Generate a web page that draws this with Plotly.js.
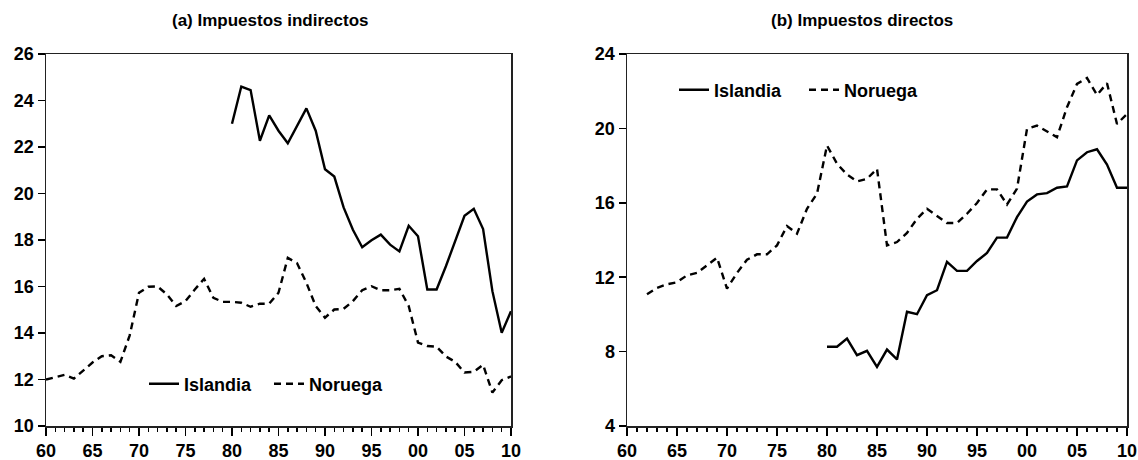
<!DOCTYPE html>
<html><head><meta charset="utf-8">
<script src="https://cdn.plot.ly/plotly-3.0.1.min.js"></script>
<style>html,body{margin:0;padding:0;background:#fff}#chart{width:1138px;height:460px}</style>
</head><body><div id="chart"></div>
<script>
// (a) Impuestos indirectos
const yearsA_isl = [1980,1981,1982,1983,1984,1985,1986,1987,1988,1989,1990,1991,1992,1993,1994,1995,1996,1997,1998,1999,2000,2001,2002,2003,2004,2005,2006,2007,2008,2009,2010];
const indirectos_islandia = [23.0,24.6,24.45,22.27,23.36,22.7,22.16,22.9,23.66,22.7,21.04,20.73,19.4,18.44,17.69,17.99,18.23,17.8,17.51,18.61,18.16,15.87,15.87,16.87,18.0,19.04,19.34,18.47,15.8,14.01,14.94];
const yearsA_nor = [1960,1961,1962,1963,1964,1965,1966,1967,1968,1969,1970,1971,1972,1973,1974,1975,1976,1977,1978,1979,1980,1981,1982,1983,1984,1985,1986,1987,1988,1989,1990,1991,1992,1993,1994,1995,1996,1997,1998,1999,2000,2001,2002,2003,2004,2005,2006,2007,2008,2009,2010];
const indirectos_noruega = [12.0,12.1,12.2,12.04,12.4,12.73,13.0,13.04,12.76,13.9,15.73,15.99,16.0,15.66,15.16,15.37,15.87,16.33,15.51,15.34,15.34,15.3,15.13,15.26,15.26,15.73,17.23,17.0,16.16,15.16,14.66,15.01,15.04,15.37,15.84,16.01,15.84,15.84,15.9,15.16,13.59,13.44,13.41,12.99,12.76,12.3,12.33,12.63,11.44,11.97,12.13];

// (b) Impuestos directos
const yearsB_isl = [1980,1981,1982,1983,1984,1985,1986,1987,1988,1989,1990,1991,1992,1993,1994,1995,1996,1997,1998,1999,2000,2001,2002,2003,2004,2005,2006,2007,2008,2009,2010];
const directos_islandia = [8.26,8.26,8.7,7.81,8.04,7.18,8.11,7.58,10.14,10.01,11.03,11.3,12.82,12.34,12.34,12.87,13.3,14.13,14.13,15.23,16.07,16.45,16.52,16.81,16.88,18.28,18.72,18.88,18.06,16.81,16.81];
const yearsB_nor = [1962,1963,1964,1965,1966,1967,1968,1969,1970,1971,1972,1973,1974,1975,1976,1977,1978,1979,1980,1981,1982,1983,1984,1985,1986,1987,1988,1989,1990,1991,1992,1993,1994,1995,1996,1997,1998,1999,2000,2001,2002,2003,2004,2005,2006,2007,2008,2009,2010];
const directos_noruega = [11.08,11.42,11.62,11.73,12.1,12.23,12.64,13.05,11.39,12.23,12.94,13.23,13.23,13.71,14.75,14.34,15.68,16.49,19.08,18.1,17.52,17.15,17.29,17.83,13.71,13.89,14.38,15.14,15.68,15.27,14.91,14.91,15.41,15.99,16.72,16.72,15.91,16.76,19.97,20.15,19.83,19.53,21.14,22.39,22.71,21.8,22.43,20.24,20.78];

const xTickVals = [1960,1965,1970,1975,1980,1985,1990,1995,2000,2005,2010];
const xTickText = ['60','65','70','75','80','85','90','95','00','05','10'];
const yTicksA = [10,12,14,16,18,20,22,24,26];
const yTicksB = [4,8,12,16,20,24];
const titles = ['(a) Impuestos indirectos', '(b) Impuestos directos'];
const seriesNames = ['Islandia', 'Noruega'];

const FONT = '"Liberation Sans", Arial, sans-serif';
const tickFont = {family: FONT, size: 18, color: '#000', weight: 700};

const solid = {color: '#000', width: 2.4, dash: 'solid'};
const dashed = {color: '#000', width: 2.4, dash: '7px,5px'};

const traces = [
  {x: yearsA_isl, y: indirectos_islandia, name: seriesNames[0], mode: 'lines', line: solid, xaxis: 'x', yaxis: 'y', legend: 'legend'},
  {x: yearsA_nor, y: indirectos_noruega, name: seriesNames[1], mode: 'lines', line: dashed, xaxis: 'x', yaxis: 'y', legend: 'legend'},
  {x: yearsB_isl, y: directos_islandia, name: seriesNames[0], mode: 'lines', line: solid, xaxis: 'x2', yaxis: 'y2', legend: 'legend2'},
  {x: yearsB_nor, y: directos_noruega, name: seriesNames[1], mode: 'lines', line: dashed, xaxis: 'x2', yaxis: 'y2', legend: 'legend2'}
];

function xAxis(domain, anchor) {
  return {
    domain: domain, anchor: anchor, range: [1960, 2010],
    tickmode: 'array', tickvals: xTickVals, ticktext: xTickText,
    ticks: 'outside', ticklen: 8, tickwidth: 1.5, tickcolor: '#000',
    minor: {tickmode: 'linear', tick0: 1960, dtick: 1, ticks: 'outside', ticklen: 4, tickwidth: 1.5, tickcolor: '#000'},
    showline: true, mirror: true, linecolor: '#222', linewidth: 1.5,
    showgrid: false, zeroline: false, tickfont: tickFont, fixedrange: true,
    ticklabeloverflow: 'allow'
  };
}
function yAxis(domain, anchor, range, vals) {
  return {
    domain: domain, anchor: anchor, range: range,
    tickmode: 'array', tickvals: vals,
    ticks: 'outside', ticklen: 7, tickwidth: 1.5, tickcolor: '#000',
    showline: true, mirror: true, linecolor: '#222', linewidth: 1.5,
    showgrid: false, zeroline: false, tickfont: tickFont, fixedrange: true,
    ticklabeloverflow: 'allow'
  };
}

const W = 1138, H = 460;
const yDom = [(H - 426) / H, (H - 54) / H];
const legendFont = {family: FONT, size: 18, color: '#000', weight: 700};

const layout = {
  width: W, height: H,
  margin: {l: 0, r: 0, t: 0, b: 0},
  paper_bgcolor: '#fff', plot_bgcolor: '#fff',
  showlegend: true,
  xaxis: xAxis([46 / W, 511 / W], 'y'),
  yaxis: yAxis(yDom, 'x', [10, 26], yTicksA),
  xaxis2: xAxis([627 / W, 1127 / W], 'y2'),
  yaxis2: yAxis(yDom, 'x2', [4, 24], yTicksB),
  legend: {orientation: 'h', x: 144 / W, y: (H - 384) / H, xanchor: 'left', yanchor: 'middle',
           bgcolor: 'rgba(0,0,0,0)', font: legendFont, itemwidth: 30, tracegroupgap: 0,
           entrywidth: 80, entrywidthmode: 'pixels'},
  legend2: {orientation: 'h', x: 674 / W, y: (H - 90) / H, xanchor: 'left', yanchor: 'middle',
            bgcolor: 'rgba(0,0,0,0)', font: legendFont, itemwidth: 30, tracegroupgap: 0,
            entrywidth: 85, entrywidthmode: 'pixels'},
  annotations: [
    {text: titles[0], xref: 'paper', yref: 'paper', x: 270 / W, y: (H - 21) / H, showarrow: false,
     xanchor: 'center', yanchor: 'middle', font: {family: FONT, size: 17, color: '#000', weight: 700}},
    {text: titles[1], xref: 'paper', yref: 'paper', x: 862 / W, y: (H - 21) / H, showarrow: false,
     xanchor: 'center', yanchor: 'middle', font: {family: FONT, size: 17, color: '#000', weight: 700}}
  ]
};

Plotly.newPlot('chart', traces, layout, {staticPlot: true, displayModeBar: false});
</script>
</body></html>
